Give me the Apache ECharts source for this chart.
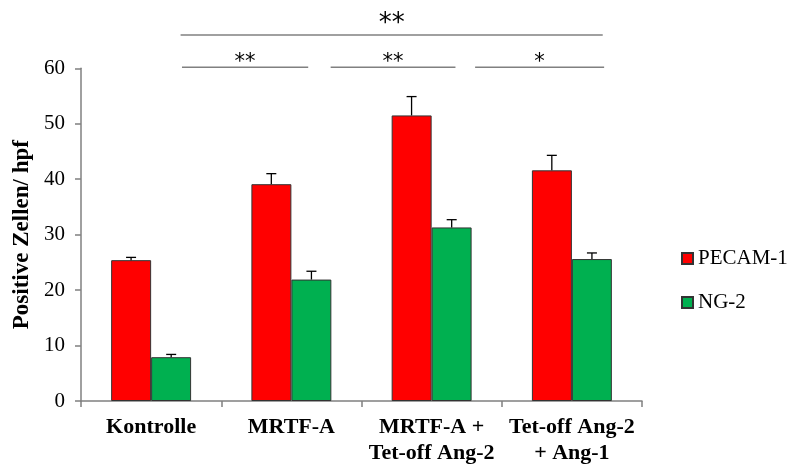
<!DOCTYPE html>
<html>
<head>
<meta charset="utf-8">
<script src="https://cdn.jsdelivr.net/npm/echarts@6/dist/echarts.min.js"></script>
<style>html,body{margin:0;padding:0;background:#fff}#c{width:789px;height:466px}</style>
</head>
<body>
<div id="c"></div>
<script>
// ---- data ----
const categories = ['Kontrolle', 'MRTF-A', 'MRTF-A +\nTet-off Ang-2', 'Tet-off Ang-2\n+ Ang-1'];
const seriesNames = ['PECAM-1', 'NG-2'];
const pecam = [25.4, 39.1, 51.5, 41.6];
const pecamErr = [0.5, 1.9, 3.4, 2.7];
const ng2 = [7.9, 21.9, 31.3, 25.6];
const ng2Err = [0.5, 1.5, 1.4, 1.1];
const yTicks = [0, 10, 20, 30, 40, 50, 60];
// significance brackets (in category-index units and value units)
const sigFrom = [0.21, 0.22, 1.28, 2.31];
const sigTo = [3.22, 1.12, 2.17, 3.23];
const sigY = [66, 60.2, 60.2, 60.2];
const sigLabel = ['**', '**', '**', '*'];

const serif = '"Liberation Serif", "Times New Roman", serif';
const axisColor = '#808080';

const chart = echarts.init(document.getElementById('c'), null, {renderer: 'canvas'});

const errData = [];
categories.forEach((c, i) => {
  errData.push([i, pecam[i], pecam[i] + pecamErr[i], -1]);
  errData.push([i, ng2[i], ng2[i] + ng2Err[i], 1]);
});
const sigData = sigFrom.map((f, i) => [f, sigTo[i], sigY[i], i === 0 ? 1 : 0]);

const option = {
  animation: false,
  backgroundColor: '#fff',
  grid: {left: 81, right: 147, top: 68.3, bottom: 65, containLabel: false},
  legend: {
    orient: 'vertical',
    left: 676,
    top: 243,
    itemWidth: 11,
    itemHeight: 11,
    itemGap: 23,
    icon: 'rect',
    data: seriesNames,
    textStyle: {fontFamily: serif, fontSize: 21, color: '#000'}
  },
  xAxis: [{
    type: 'category',
    data: categories,
    axisLine: {lineStyle: {color: axisColor, width: 1.5}},
    axisTick: {show: true, length: 6, lineStyle: {color: axisColor, width: 1.5}},
    axisLabel: {fontFamily: serif, fontSize: 22, fontWeight: 'bold', color: '#000', margin: 13, lineHeight: 26, interval: 0}
  }, {
    type: 'value', min: -0.5, max: 3.5, show: false
  }],
  yAxis: {
    type: 'value',
    min: 0, max: 60, interval: 10,
    name: 'Positive Zellen/ hpf',
    nameLocation: 'middle',
    nameGap: 46,
    nameTextStyle: {fontFamily: serif, fontSize: 23, fontWeight: 'bold', color: '#000'},
    axisLine: {show: true, onZero: false, lineStyle: {color: axisColor, width: 1.5}},
    axisTick: {show: true, length: 6, inside: false, lineStyle: {color: axisColor, width: 1.5}},
    axisLabel: {fontFamily: serif, fontSize: 21, color: '#000', margin: 16,
      formatter: v => yTicks.includes(v) ? String(v) : ''},
    splitLine: {show: false}
  },
  series: [{
    name: seriesNames[0], type: 'bar', data: pecam,
    barGap: '0%', barCategoryGap: '43%',
    itemStyle: {color: '#FF0000', borderColor: '#333', borderWidth: 1}
  }, {
    name: seriesNames[1], type: 'bar', data: ng2,
    barGap: '0%', barCategoryGap: '43%',
    itemStyle: {color: '#00B050', borderColor: '#333', borderWidth: 1}
  }, {
    type: 'custom', name: 'err', data: errData, z: 5,
    encode: {x: 0, y: [1, 2]},
    renderItem: function (params, api) {
      const i = api.value(0);
      const band = api.size([1, 0])[0];
      const off = api.value(3) * band * 0.143;
      const base = api.coord([i, api.value(1)]);
      const top = api.coord([i, api.value(2)]);
      const x = base[0] + off;
      const cap = 5;
      return {
        type: 'group',
        children: [
          {type: 'line', shape: {x1: x, y1: base[1], x2: x, y2: top[1]}, style: {stroke: '#000', lineWidth: 1.3}},
          {type: 'line', shape: {x1: x - cap, y1: top[1], x2: x + cap, y2: top[1]}, style: {stroke: '#000', lineWidth: 1.3}}
        ]
      };
    }
  }, {
    type: 'custom', name: 'sig', data: sigData, xAxisIndex: 1, clip: false, z: 5,
    encode: {x: [0, 1], y: 2},
    renderItem: function (params, api) {
      const a = api.coord([api.value(0), api.value(2)]);
      const b = api.coord([api.value(1), api.value(2)]);
      const big = api.value(3) === 1;
      return {
        type: 'group',
        children: [
          {type: 'line', shape: {x1: a[0], y1: a[1], x2: b[0], y2: b[1]}, style: {stroke: axisColor, lineWidth: 1.5}},
          {type: 'text', x: (a[0] + b[0]) / 2, y: a[1] - (big ? 11 : 5),
            style: {text: sigLabel[params.dataIndex], fontFamily: '"DejaVu Sans", sans-serif',
              fontSize: big ? 26 : 21, fill: '#000', align: 'center', verticalAlign: 'middle'}}
        ]
      };
    }
  }]
};
chart.setOption(option);
</script>
</body>
</html>
